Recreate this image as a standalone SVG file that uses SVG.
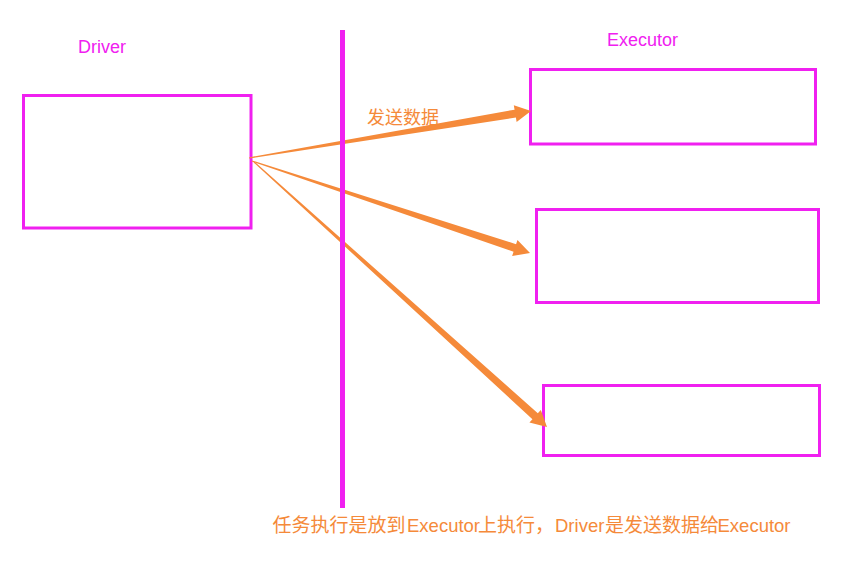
<svg xmlns="http://www.w3.org/2000/svg" width="856" height="573" viewBox="0 0 856 573">
<style>
.box{fill:none;stroke:#F020F0;stroke-width:3}
.lbl{font-family:"Liberation Sans",Arial,sans-serif;font-size:18px;fill:#F020F0}
.arr{fill:#F58A3A;stroke:none}
.cap{font-family:"Noto Sans CJK SC","Liberation Sans",sans-serif;fill:#F58A3A}
.lat{font-family:"Liberation Sans",Arial,sans-serif;font-size:18.5px}
</style>
<rect width="856" height="573" fill="#ffffff"/>
<g id="driver">
<rect class="box" x="23.5" y="95.5" width="227.5" height="132.5"/>
<text class="lbl" x="78" y="53" font-size="18.5">Driver</text>
</g>
<g id="executor-label">
<text class="lbl" x="607" y="46">Executor</text>
</g>
<g id="executor1"><rect class="box" x="530.5" y="69.5" width="285" height="74.5"/></g>
<g id="executor2"><rect class="box" x="536.5" y="209.5" width="282" height="93"/></g>
<g id="executor3"><rect class="box" x="543.5" y="385.5" width="276" height="70"/></g>
<g id="connectors">
<polygon class="arr" points="249.1,158.6 515.88,117.58 516.62,122.01 531,111 513.82,105.25 514.56,109.68 248.9,157.4"/>
<polygon class="arr" points="251.81,161.57 513.55,251.77 512.14,256.04 530,253 517.48,239.9 516.07,244.17 252.19,160.43"/>
<polygon class="arr" points="253.6,162.44 532.45,419.24 529.43,422.57 547,427 540.83,409.97 537.81,413.3 254.4,161.56"/>
</g>
<g id="divider"><line x1="342.5" y1="30" x2="342.5" y2="508" stroke="#F020F0" stroke-width="5"/></g>
<g id="send-label"><text class="cap" x="367" y="124" font-size="18">发送数据</text></g>
<g id="caption">
<text class="cap" y="532" font-size="19"><tspan x="272.5">任务执行是放到</tspan><tspan class="lat" x="407">Executor</tspan><tspan x="478">上执行，</tspan><tspan class="lat" x="555">Driver</tspan><tspan x="605">是发送数据给</tspan><tspan class="lat" x="717.5">Executor</tspan></text>
</g>
</svg>
